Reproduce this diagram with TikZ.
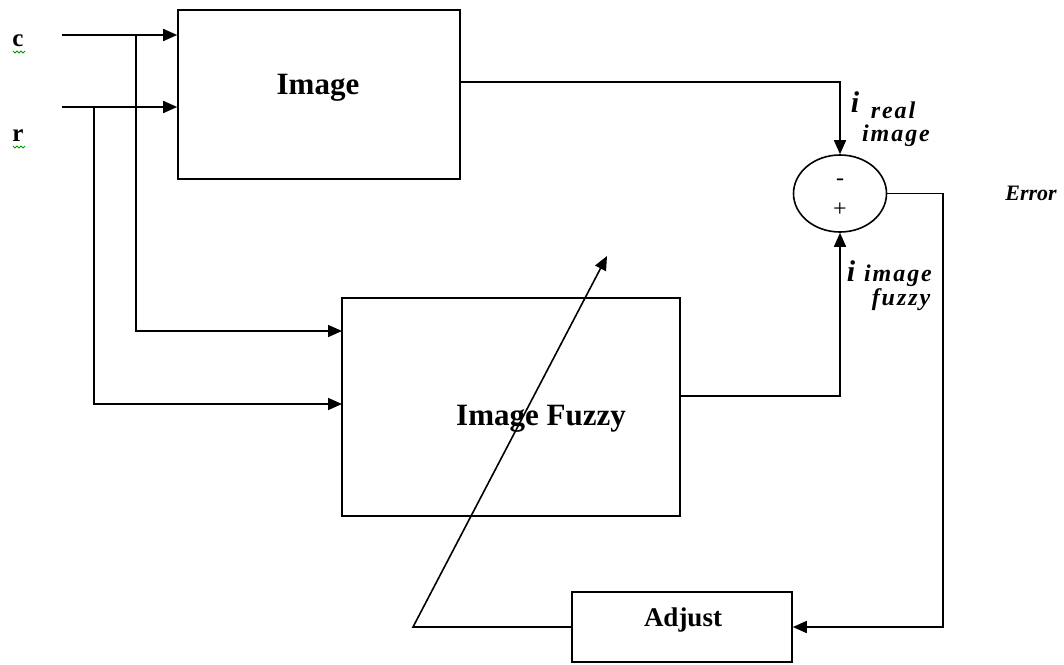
\documentclass[tikz,border=0pt]{standalone}
\usepackage{fontspec}
\setmainfont{Liberation Serif}
\newfontfamily\labfont[LetterSpace=8]{Liberation Serif}
\usetikzlibrary{arrows.meta,shapes.geometric}
\begin{document}
\begin{tikzpicture}[x=1pt,y=-1pt,line width=1.6pt,
  box/.style={draw,rectangle,inner sep=0pt},
  arr/.style={-{Triangle[length=14pt,width=12pt]}},
  boxtext/.style={font=\bfseries\fontsize{31}{36}\selectfont,inner sep=0pt},
  inlab/.style={font=\labfont\bfseries\itshape\fontsize{24}{28}\selectfont,inner sep=0pt},
  bigi/.style={font=\bfseries\itshape\fontsize{30}{34}\selectfont,inner sep=0pt},
  inletter/.style={font=\bfseries\fontsize{25}{30}\selectfont,inner sep=0pt},
  sign/.style={font=\fontsize{24}{28}\selectfont,inner sep=0pt},
  squig/.style={draw=green!60!black,line width=0.8pt}]
\useasboundingbox (0,0) rectangle (1064,664);
% blocks
\node[box,minimum width=282pt,minimum height=169pt] (img) at (319,94.5) {};
\node[boxtext] (imgtxt) at (318,88) {Image};
\node[box,minimum width=338pt,minimum height=218pt] (fz) at (511,407) {};
\node[boxtext] (fztxt) at (541,419) {Image Fuzzy};
\node[box,minimum width=220pt,minimum height=70pt] (adj) at (682,627) {};
\node[font=\bfseries\fontsize{27}{32}\selectfont,inner sep=0pt] (adjtxt) at (683,620) {Adjust};
\node[draw,ellipse,minimum width=93pt,minimum height=77pt,inner sep=0pt] (sum) at (840,193.5) {};
\node[sign] (minus) at (840,182) {-};
\node[sign] (plus) at (840,210) {+};
% inputs
\node[inletter] (c) at (18,41) {c};
\node[inletter] (r) at (18,136) {r};
\path[squig] (13,51)--(15,53)--(17,51)--(19,53)--(21,51)--(23,53)--(25,51);
\path[squig] (13,146)--(15,148)--(17,146)--(19,148)--(21,146)--(23,148)--(25,146);
\coordinate (cs) at (62,35);
\coordinate (rs) at (62,107);
\coordinate (j1) at (136,35);
\coordinate (j2) at (94,107);
\coordinate (fin1) at (342,331);
\coordinate (fin2) at (342,404);
\draw[arr] (cs) -- (cs -| img.west);
\draw[arr] (rs) -- (rs -| img.west);
\draw[arr] (j1) |- (fin1);
\draw[arr] (j2) |- (fin2);
% outputs to summer
\coordinate (iout) at (460,82);
\coordinate (fout) at (680,396);
\draw[arr] (iout) -| (sum.north);
\draw[arr] (fout) -| (sum.south);
% error path
\coordinate (ecorner) at (943,193.5);
\draw[arr] (sum.east) -- (ecorner) |- (adj.east);
% adjust feedback
\coordinate (ll) at (413,627);
\coordinate (tip) at (607,256);
\draw[arr] (adj.west) -- (ll) -- (tip);
% labels
\node[bigi] (i1) at (855,102) {i};
\node[inlab] (l1a) at (893,110) {real};
\node[inlab] (l1b) at (896,136) {image};
\node[bigi] (i2) at (851,271) {i};
\node[inlab] (l2a) at (898,276) {image};
\node[inlab] (l2b) at (901,300) {fuzzy};
\node[font=\bfseries\itshape\fontsize{22}{26}\selectfont,inner sep=0pt] (err) at (1031,193) {Error};
\end{tikzpicture}
\end{document}
